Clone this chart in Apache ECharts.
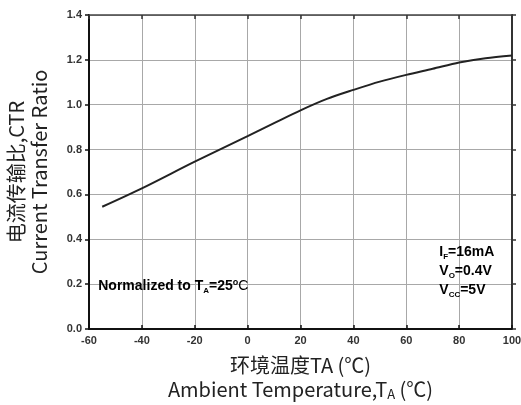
<!DOCTYPE html>
<html><head><meta charset="utf-8">
<script src="https://cdn.jsdelivr.net/npm/echarts@6/dist/echarts.min.js"></script>
<style>html,body{margin:0;padding:0;background:#fff}#c{width:521px;height:405px}</style>
</head><body><div id="c"></div>
<script>
const temps = [-55, -40, -20, 0, 10, 20, 30, 40, 50, 60, 70, 80, 90, 100];
const ctr   = [0.545, 0.627, 0.746, 0.86, 0.918, 0.975, 1.026, 1.066, 1.103, 1.133, 1.16, 1.188, 1.207, 1.219];
const xTicks = [-60, -40, -20, 0, 20, 40, 60, 80, 100];
const yTicks = [0.0, 0.2, 0.4, 0.6, 0.8, 1.0, 1.2, 1.4];

const chart = echarts.init(document.getElementById('c'), null, {renderer: 'canvas'});
const tickFont = {fontFamily: 'Liberation Sans, Arial, sans-serif', fontWeight: 'bold', fontSize: 11, color: '#333'};
const titleFont = 'Noto Sans CJK SC, Noto Sans, sans-serif';
const annFont = 'Liberation Sans, Arial, sans-serif';

chart.setOption({
  animation: false,
  grid: {left: 89, right: 9, top: 15, bottom: 76, containLabel: false, outerBoundsMode: 'none'},
  xAxis: [{
    type: 'value', min: -60, max: 100, interval: 20, position: 'bottom',
    axisLine: {onZero: false, lineStyle: {color: '#111', width: 2}},
    axisTick: {inside: true, length: 4, lineStyle: {color: '#111', width: 1.5}},
    axisLabel: Object.assign({margin: 6, formatter: v => xTicks.includes(v) ? String(v) : ''}, tickFont),
    splitLine: {show: true, lineStyle: {color: '#a8a8a8', width: 1}},
    name: '{a|环境温度TA (℃)}\n{a|Ambient Temperature,T}{s|A}{a| (℃)}',
    nameLocation: 'middle', nameGap: 24,
    nameTextStyle: {
      fontFamily: titleFont, color: '#222', lineHeight: 24, verticalAlign: 'top',
      rich: {
        a: {fontFamily: titleFont, fontSize: 20, color: '#222', lineHeight: 24},
        s: {fontFamily: titleFont, fontSize: 13, color: '#222', lineHeight: 24, padding: [10, 0, 0, 0]}
      }
    }
  }, {
    type: 'value', min: -60, max: 100, interval: 20, position: 'top',
    axisLine: {show: true, onZero: false, lineStyle: {color: '#444', width: 1.5}},
    axisTick: {show: true, inside: true, length: 4, lineStyle: {color: '#333', width: 1.5}},
    axisLabel: {show: false}, splitLine: {show: false}
  }],
  yAxis: [{
    type: 'value', min: 0, max: 1.4, interval: 0.2, position: 'left',
    axisLine: {show: true, onZero: false, lineStyle: {color: '#111', width: 2}},
    axisTick: {show: true, inside: false, length: 4, lineStyle: {color: '#111', width: 1.5}},
    axisLabel: Object.assign({margin: 7, formatter: v => yTicks.some(t => Math.abs(t - v) < 1e-6) ? v.toFixed(1) : ''}, tickFont),
    splitLine: {show: true, lineStyle: {color: '#a8a8a8', width: 1}},
    name: '电流传输比,CTR\nCurrent Transfer Ratio',
    nameLocation: 'middle', nameRotate: 90, nameGap: 38,
    nameTextStyle: {fontFamily: titleFont, fontSize: 20, color: '#222', lineHeight: 23}
  }, {
    type: 'value', min: 0, max: 1.4, interval: 0.2, position: 'right',
    axisLine: {show: true, onZero: false, lineStyle: {color: '#333', width: 2}},
    axisTick: {show: true, inside: false, length: 4, lineStyle: {color: '#333', width: 1.5}},
    axisLabel: {show: false}, splitLine: {show: false}
  }],
  series: [{
    type: 'line', xAxisIndex: 0, yAxisIndex: 0,
    data: temps.map((t, i) => [t, ctr[i]]),
    smooth: 0.3, showSymbol: false,
    lineStyle: {color: '#222', width: 2}
  }]
});

function place() {
  const p1 = chart.convertToPixel({xAxisIndex: 0, yAxisIndex: 0}, [-56.5, 0.19]);
  const p2 = chart.convertToPixel({xAxisIndex: 0, yAxisIndex: 0}, [72.5, 0.385]);
  const b = {fontFamily: annFont, fontWeight: 'bold', fontSize: 14, color: '#222', lineHeight: 19};
  const sb = {fontFamily: annFont, fontWeight: 'bold', fontSize: 8, color: '#222', lineHeight: 19, padding: [9, 0, 0, 0]};
  const sp = {fontFamily: annFont, fontWeight: 'bold', fontSize: 9, color: '#222', lineHeight: 19, padding: [0, 0, 8, 0]};
  const rg = {fontFamily: annFont, fontWeight: 'normal', fontSize: 14, color: '#222', lineHeight: 19};
  chart.setOption({
    graphic: [{
      type: 'text', x: p1[0], y: p1[1],
      style: {
        text: '{b|Normalized to T}{sb|A}{b|=25}{sp|o}{rg|C}',
        verticalAlign: 'middle', align: 'left',
        rich: {b: b, sb: sb, sp: sp, rg: rg}
      }
    }, {
      type: 'text', x: p2[0], y: p2[1],
      style: {
        text: '{b|I}{sb|F}{b|=16mA}\n{b|V}{sb|O}{b|=0.4V}\n{b|V}{sb|CC}{b|=5V}',
        verticalAlign: 'top', align: 'left',
        rich: {b: b, sb: sb}
      }
    }]
  });
}
place();
</script>
</body></html>
